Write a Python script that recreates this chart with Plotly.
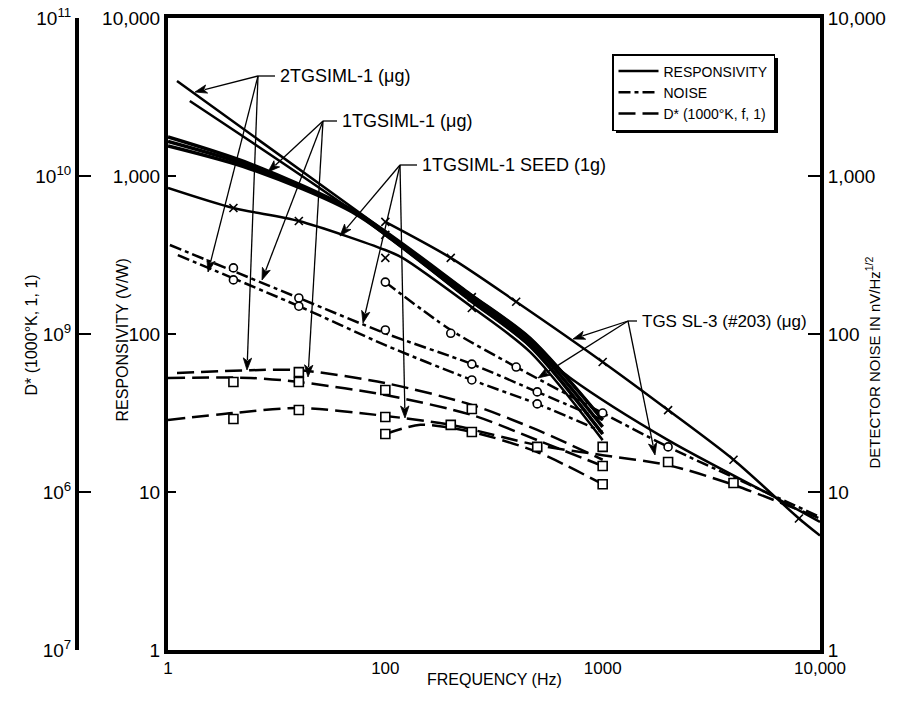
import math
import plotly.graph_objects as go

# ---------------- data ----------------
# Responsivity (V/W) - solid curves
f_2tg_a = [11, 81, 245, 463, 1000]
r_2tg_a = [3990, 550, 179, 94, 28.6]
f_2tg_b = [12.6, 73, 245, 463, 1000]
r_2tg_b = [2985, 583, 164, 84, 23.3]
f_1tg = [10, 24, 73, 245, 463, 1000]
r_1tg_a = [1766, 1191, 592, 179, 94, 28.6]
r_1tg_b = [1652, 1149, 583, 171, 89, 25.8]
r_1tg_c = [1548, 1107, 575, 164, 84, 23.3]
f_seed = [10, 20, 40, 100, 120, 250, 463, 1000]
r_seed = [840, 627, 519, 340, 303, 148, 77, 21.3]
f_tgs_u = [100, 200, 400, 1000, 2000, 4000, 8000, 10000]
r_tgs_u = [512, 303, 160, 66.5, 33, 16, 6.8, 5.3]
f_tgs_l = [100, 250, 710, 2000, 6550, 10000]
r_tgs_l = [424, 171, 52.7, 21.3, 8.9, 6.46]

# Detector noise (nV/Hz^1/2) - dash-dot curves
f_n1 = [10.2, 40, 100, 250, 500, 1000]
n_n1 = [366, 169, 101, 64.5, 43, 28.6]
f_n2 = [11.1, 40, 100, 250, 500, 1000]
n_n2 = [316, 150, 85, 51.2, 36.1, 24]
f_n3 = [100, 200, 400, 1000, 2000, 4000, 10000]
n_n3 = [213, 106, 61.8, 31.6, 19.3, 12.4, 6.95]

# D* (1000K, f, 1) - dashed curves
f_d1 = [11, 24, 40, 100, 250, 500, 1000]
d_d1 = [5.66e8, 5.9e8, 5.9e8, 4.89e8, 3.56e8, 2.47e8, 1.6e8]
f_d2 = [10, 24, 40, 100, 250, 500, 1000]
d_d2 = [5.27e8, 5.27e8, 4.97e8, 4.11e8, 3.07e8, 2.13e8, 1.46e8]
f_d3 = [10, 20, 40, 100, 200, 500, 1000, 2000, 4000, 10000]
d_d3 = [2.86e8, 3.16e8, 3.4e8, 3.03e8, 2.66e8, 1.98e8, 1.71e8, 1.48e8, 1.11e8, 6.8e7]
f_d4 = [100, 145, 250, 500, 1000]
d_d4 = [2.33e8, 2.66e8, 2.4e8, 1.79e8, 1.12e8]

# measured points
f_rx = [20, 40, 100, 100, 100, 200, 250, 250, 400, 1000, 2000, 4000, 8000]
r_rx = [627, 519, 512, 424, 303, 303, 171, 146, 160, 66.5, 33, 16, 6.8]
f_no = [20, 20, 40, 40, 100, 100, 200, 250, 250, 400, 500, 500, 1000, 2000]
n_no = [262, 220, 169, 150, 213, 106, 101, 64.5, 51.2, 61.8, 43, 36.1, 31.6, 19.3]
f_ds = [20, 20, 40, 40, 40, 100, 100, 100, 200, 250, 250, 500, 1000, 1000, 1000, 2000, 4000]
d_ds = [4.97e8, 2.9e8, 5.74e8, 4.97e8, 3.3e8, 4.42e8, 2.98e8, 2.33e8, 2.66e8, 3.35e8,
        2.4e8, 1.93e8, 1.93e8, 1.46e8, 1.12e8, 1.55e8, 1.14e8]

# tick labels
x_tickvals = [10, 100, 1000, 10000]
x_ticktext = ["1", "100", "1000", "10,000"]
r_tickvals = [1, 10, 100, 1000, 10000]
r_ticktext = ["1", "10", "100", "1,000", "10,000"]
d_tickvals = [1e7, 1e8, 1e9, 1e10, 1e11]
d_ticktext = ["10<sup>7</sup>", "10<sup>6</sup>", "10<sup>9</sup>", "10<sup>10</sup>", "10<sup>11</sup>"]

# ---------------- layout helpers ----------------
W, H = 898, 704
PLOT_TOP, PLOT_BOTTOM = 18, 650          # page pixels
X0, X1 = 168, 820                        # page pixels
MT = PLOT_TOP
MB = H - PLOT_BOTTOM


def paper_x(p):
    return p / W


def paper_y(p):
    return (H - MB - p) / (H - MT - MB)


FONT = "Liberation Sans, Arial, Helvetica, sans-serif"
BLK = "black"
NOISE_DASH = "12px,4px,4px,4px"
DSTAR_DASH = "17px,7px"

fig = go.Figure()


def resp(fx, ry, width=2.5, name=None):
    fig.add_trace(go.Scatter(x=fx, y=ry, mode="lines", yaxis="y",
                             line=dict(color=BLK, width=width, shape="spline", smoothing=0.8),
                             name=name or "RESPONSIVITY", showlegend=name is not None,
                             hoverinfo="skip"))


resp(f_2tg_a, r_2tg_a, name="RESPONSIVITY")
resp(f_2tg_b, r_2tg_b)
resp(f_1tg, r_1tg_a, 3.5)
resp(f_1tg, r_1tg_b, 3.5)
resp(f_1tg, r_1tg_c, 3.5)
resp(f_seed, r_seed)
resp(f_tgs_u, r_tgs_u)
resp(f_tgs_l, r_tgs_l)


def noise(fx, ny, name=None):
    fig.add_trace(go.Scatter(x=fx, y=ny, mode="lines", yaxis="y2",
                             line=dict(color=BLK, width=2.5, dash=NOISE_DASH, shape="spline", smoothing=0.8),
                             name=name or "NOISE", showlegend=name is not None, hoverinfo="skip"))


noise(f_n1, n_n1, "NOISE")
noise(f_n2, n_n2)
noise(f_n3, n_n3)


def dstar(fx, dy, name=None):
    fig.add_trace(go.Scatter(x=fx, y=dy, mode="lines", yaxis="y3",
                             line=dict(color=BLK, width=2.5, dash=DSTAR_DASH, shape="spline", smoothing=0.8),
                             name=name or "D*", showlegend=name is not None, hoverinfo="skip"))


dstar(f_d1, d_d1, "D* (1000°K, f, 1)")
dstar(f_d2, d_d2)
dstar(f_d3, d_d3)
dstar(f_d4, d_d4)

fig.add_trace(go.Scatter(x=f_rx, y=r_rx, mode="markers", yaxis="y", showlegend=False,
                         marker=dict(symbol="x-thin", size=8, line=dict(color=BLK, width=1.6)),
                         hoverinfo="skip"))
fig.add_trace(go.Scatter(x=f_no, y=n_no, mode="markers", yaxis="y2", showlegend=False,
                         marker=dict(symbol="circle", size=8, color="white", line=dict(color=BLK, width=1.6)),
                         hoverinfo="skip"))
fig.add_trace(go.Scatter(x=f_ds, y=d_ds, mode="markers", yaxis="y3", showlegend=False,
                         marker=dict(symbol="square", size=9, color="white", line=dict(color=BLK, width=1.6)),
                         hoverinfo="skip"))

# ---------------- callouts (arrows drawn as shapes in paper space) ----------------
callouts = [
    ("2TGSIML-1 (μg)", (258, 76), 278, 18, [(195, 92), (208, 272), (247, 370)]),
    ("1TGSIML-1 (μg)", (323, 121), 340, 18, [(268, 172), (262, 280), (308, 377)]),
    ("1TGSIML-1 SEED (1g)", (400, 165), 420, 18, [(340, 236), (363, 323), (405, 418)]),
    ("TGS SL-3 (#203) (μg)", (628, 321), 640, 17, [(573, 339), (538, 378), (655, 455)]),
]
annotations = []
shapes = []
HEAD_L, HEAD_W = 12, 4.2
for text, (ox, oy), tx, fsize, tips in callouts:
    for (tx_, ty_) in tips:
        dx, dy = tx_ - ox, ty_ - oy
        n = math.hypot(dx, dy)
        ux, uy = dx / n, dy / n
        bx, by = tx_ - HEAD_L * ux, ty_ - HEAD_L * uy
        nx, ny = -uy, ux
        shapes.append(dict(type="line", xref="paper", yref="paper",
                           x0=paper_x(ox), y0=paper_y(oy), x1=paper_x(bx + 2 * ux), y1=paper_y(by + 2 * uy),
                           line=dict(color=BLK, width=1.3)))
        pts = [(tx_, ty_), (bx + HEAD_W * nx, by + HEAD_W * ny), (bx + 3 * ux, by + 3 * uy),
               (bx - HEAD_W * nx, by - HEAD_W * ny)]
        path = "M " + " L ".join(f"{paper_x(a):.5f},{paper_y(b):.5f}" for a, b in pts) + " Z"
        shapes.append(dict(type="path", xref="paper", yref="paper", path=path,
                           fillcolor=BLK, line=dict(color=BLK, width=0.8)))
    shapes.append(dict(type="line", xref="paper", yref="paper",
                       x0=paper_x(ox), y0=paper_y(oy), x1=paper_x(tx - 3), y1=paper_y(oy),
                       line=dict(color=BLK, width=1.3)))
    annotations.append(dict(x=paper_x(tx), y=paper_y(oy), xref="paper", yref="paper", text=text,
                            showarrow=False, xanchor="left", yanchor="middle",
                            font=dict(family=FONT, size=fsize, color=BLK)))

annotations += [
    dict(x=paper_x(20), y=paper_y(335), xref="paper", yref="paper", text="D* (1000°K, 1, 1)",
         textangle=-90, showarrow=False, font=dict(family=FONT, size=16, color=BLK)),
    dict(x=paper_x(111), y=paper_y(340), xref="paper", yref="paper", text="RESPONSIVITY (V/W)",
         textangle=-90, showarrow=False, font=dict(family=FONT, size=16, color=BLK)),
    dict(x=paper_x(884), y=paper_y(363), xref="paper", yref="paper",
         text="DETECTOR NOISE IN nV/Hz<sup>1/2</sup>",
         textangle=-90, showarrow=False, font=dict(family=FONT, size=15, color=BLK)),
    dict(x=paper_x(494), y=paper_y(690), xref="paper", yref="paper", text="FREQUENCY (Hz)",
         showarrow=False, font=dict(family=FONT, size=16, color=BLK)),
]

# legend drop shadow (legend box is about 163 x 76 px)
shapes.append(dict(type="rect", xref="paper", yref="paper", layer="above",
                   x0=paper_x(616), x1=paper_x(778), y0=paper_y(133), y1=paper_y(58),
                   fillcolor=BLK, line=dict(width=0)))

tickfont = dict(family=FONT, size=19, color=BLK)
common = dict(showgrid=False, zeroline=False, automargin=False, ticklabeloverflow="allow",
              showline=True, linewidth=4, linecolor=BLK)
fig.update_layout(
    width=W, height=H,
    margin=dict(l=0, r=0, t=MT, b=MB, autoexpand=False),
    paper_bgcolor="white", plot_bgcolor="white",
    font=dict(family=FONT, color=BLK),
    xaxis=dict(type="log", range=[1, 4], domain=[paper_x(X0), paper_x(X1)], mirror=True,
               ticks="", tickvals=x_tickvals, ticktext=x_ticktext,
               tickfont=dict(family=FONT, size=17, color=BLK), **common),
    yaxis=dict(type="log", range=[0, 4], anchor="x", side="left",
               ticks="inside", ticklen=8, tickwidth=2, tickcolor=BLK,
               tickvals=r_tickvals, ticktext=r_ticktext, tickfont=tickfont, **common),
    yaxis2=dict(type="log", range=[0, 4], anchor="x", side="right", overlaying="y",
                ticks="inside", ticklen=12, tickwidth=2, tickcolor=BLK,
                tickvals=r_tickvals, ticktext=r_ticktext, tickfont=tickfont, **common),
    yaxis3=dict(type="log", range=[7, 11], anchor="free", position=paper_x(77), side="left",
                overlaying="y", ticks="inside", ticklen=12, tickwidth=2, tickcolor=BLK,
                tickvals=d_tickvals, ticktext=d_ticktext, tickfont=tickfont, **common),
    legend=dict(x=paper_x(612), y=paper_y(54), xanchor="left", yanchor="top",
                bgcolor="white", bordercolor=BLK, borderwidth=1.5,
                font=dict(family=FONT, size=14, color=BLK), itemwidth=40,
                tracegroupgap=0),
    annotations=annotations,
    shapes=shapes,
    showlegend=True,
)

# remove the browser's default 8px body margin so the figure fills the window exactly
fig.write_html("out.html", config={"displayModeBar": False},
               post_script="document.body.style.margin='0px';")
